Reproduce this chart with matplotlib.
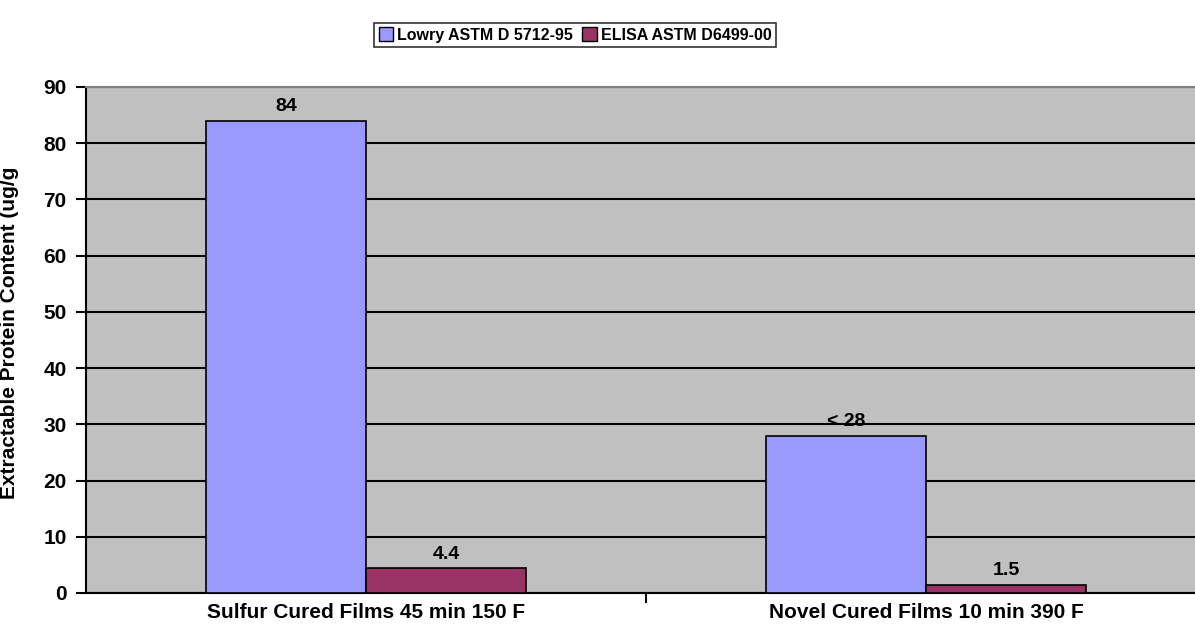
import matplotlib.pyplot as plt
import numpy as np

plt.rcParams["font.family"] = ["Liberation Sans", "DejaVu Sans"]
plt.rcParams["font.weight"] = "bold"

categories = ["Sulfur Cured Films 45 min 150 F", "Novel Cured Films 10 min 390 F"]
lowry = [84, 28]
elisa = [4.4, 1.5]
lowry_labels = ["84", "< 28"]
elisa_labels = ["4.4", "1.5"]

fig = plt.figure(figsize=(11.95, 6.35), dpi=100)
ax = fig.add_axes([86 / 1195, 42 / 635, 1120 / 1195, 506 / 635])
ax.set_facecolor("#c0c0c0")

x = np.arange(len(categories))
w = 0.2857
b1 = ax.bar(x - w / 2, lowry, w, color="#9999ff", edgecolor="black", linewidth=1.2,
            label="Lowry ASTM D 5712-95", zorder=3)
b2 = ax.bar(x + w / 2, elisa, w, color="#993366", edgecolor="black", linewidth=1.2,
            label="ELISA ASTM D6499-00", zorder=3)

# value labels above bars
for bars, labs in [(b1, lowry_labels), (b2, elisa_labels)]:
    for r, t in zip(bars, labs):
        ax.annotate(t, (r.get_x() + r.get_width() / 2, r.get_height()),
                    xytext=(0, 4), textcoords="offset points",
                    ha="center", va="bottom", fontsize=14, fontweight="bold")

ax.set_xlim(-0.5, 1.5)
ax.set_ylim(0, 90)
ax.set_yticks(range(0, 91, 10))
ax.yaxis.grid(True, color="black", linewidth=1.5, zorder=1)
ax.set_axisbelow(True)
ax.tick_params(axis="y", direction="out", length=7, width=1.5, labelsize=15, pad=7)

ax.set_xticks([0.5])
ax.set_xticklabels([""])
ax.tick_params(axis="x", direction="out", length=7, width=1.5)
for xi, c in zip(x, categories):
    ax.text(xi, -0.02, c, transform=ax.get_xaxis_transform(), ha="center", va="top",
            fontsize=15, fontweight="bold")

ax.spines["top"].set_color("#808080")
ax.spines["top"].set_linewidth(1.5)
ax.spines["left"].set_linewidth(1.5)
ax.spines["bottom"].set_linewidth(1.5)
ax.spines["right"].set_visible(False)

ax.set_ylabel("Extractable Protein Content (ug/g", fontsize=15, fontweight="bold")
ax.yaxis.set_label_coords(-0.06, 0.514)

leg = fig.legend(loc="center", bbox_to_anchor=(575 / 1195, 1 - 35 / 635), ncol=2,
                 frameon=True, fancybox=False, edgecolor="black", fontsize=11.5,
                 handlelength=0.9, handleheight=0.9, handletextpad=0.25,
                 columnspacing=0.6, borderpad=0.3)
leg.get_frame().set_linewidth(1.2)
for h in leg.legend_handles:
    h.set_linewidth(1)

fig.savefig("out.png", dpi=100)
